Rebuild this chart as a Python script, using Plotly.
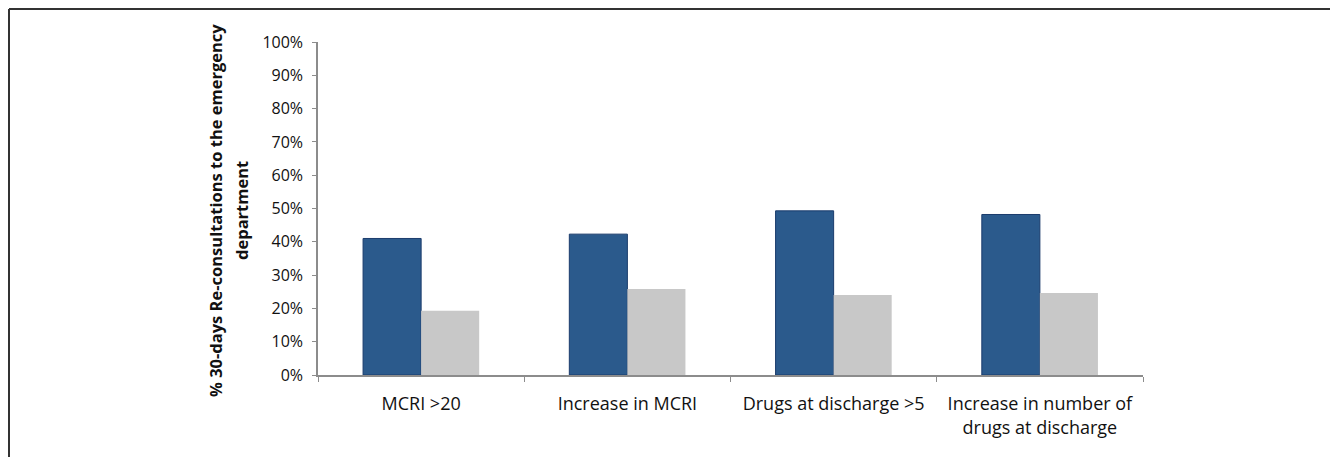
import plotly.graph_objects as go

categories = ["MCRI >20", "Increase in MCRI", "Drugs at discharge >5",
              "Increase in number of<br>drugs at discharge"]
series_a = [0.410, 0.423, 0.493, 0.482]
series_b = [0.193, 0.258, 0.240, 0.246]
y_ticks = [0, 0.1, 0.2, 0.3, 0.4, 0.5, 0.6, 0.7, 0.8, 0.9, 1.0]
y_title_1 = "% 30-days Re-consultations to the emergency"
y_title_2 = "department"

# page has an 8px body margin; figure coords = page coords - 8
OFF = 8
W, H = 1338 - OFF, 457 - OFF
PL, PR, PT, PB = 318, 1143, 42, 375   # plot area in page pixels
L, T = PL - OFF, PT - OFF
pw, ph = PR - PL, PB - PT
R, B = W - L - pw, H - T - ph

def px_to_paper_x(px):
    return (px - PL) / pw

def px_to_paper_y(py):
    return (PB - py) / ph

fig = go.Figure()
fig.add_trace(go.Bar(x=categories, y=series_a,
                     marker=dict(color="#2b5a8c", line=dict(color="#1b3c6c", width=1)),
                     showlegend=False))
fig.add_trace(go.Bar(x=categories, y=series_b,
                     marker=dict(color="#c8c8c8", line=dict(width=0)),
                     showlegend=False))

fig.update_layout(
    width=W, height=H,
    margin=dict(l=L, r=R, t=T, b=B, pad=0),
    paper_bgcolor="white", plot_bgcolor="white",
    barmode="group", bargap=0.437, bargroupgap=0,
    font=dict(family="Open Sans", color="#111111"),
    xaxis=dict(
        showline=True, linecolor="#8c8c8c", linewidth=1.5,
        ticks="outside", tickson="boundaries", ticklen=5, tickcolor="#8c8c8c",
        tickfont=dict(size=18, family="Open Sans", color="#111111"),
        ticklabelstandoff=12,
        showgrid=False, zeroline=False,
    ),
    yaxis=dict(
        range=[0, 1], tickvals=y_ticks, tickformat=".0%",
        showline=True, linecolor="#8c8c8c", linewidth=1.5,
        ticks="outside", ticklen=4, tickcolor="#8c8c8c",
        tickfont=dict(size=16, family="Open Sans", color="#111111"),
        ticklabelstandoff=6,
        showgrid=False, zeroline=False,
    ),
    shapes=[
        dict(type="line", xref="paper", yref="paper",
             x0=px_to_paper_x(OFF + 1), x1=px_to_paper_x(1338), y0=px_to_paper_y(OFF + 1), y1=px_to_paper_y(OFF + 1),
             line=dict(color="#333333", width=2)),
        dict(type="line", xref="paper", yref="paper",
             x0=px_to_paper_x(OFF + 1), x1=px_to_paper_x(OFF + 1), y0=px_to_paper_y(OFF + 1), y1=px_to_paper_y(457),
             line=dict(color="#333333", width=2)),
    ],
    annotations=[
        dict(text="<b>" + y_title_1 + "</b>", textangle=-90, xref="paper", yref="paper",
             x=px_to_paper_x(215), y=px_to_paper_y(211), xanchor="center", yanchor="middle",
             showarrow=False, font=dict(size=16.5, family="Open Sans", color="#111111")),
        dict(text="<b>" + y_title_2 + "</b>", textangle=-90, xref="paper", yref="paper",
             x=px_to_paper_x(241), y=px_to_paper_y(211), xanchor="center", yanchor="middle",
             showarrow=False, font=dict(size=16.5, family="Open Sans", color="#111111")),
    ],
)

fig.write_html("out.html")
